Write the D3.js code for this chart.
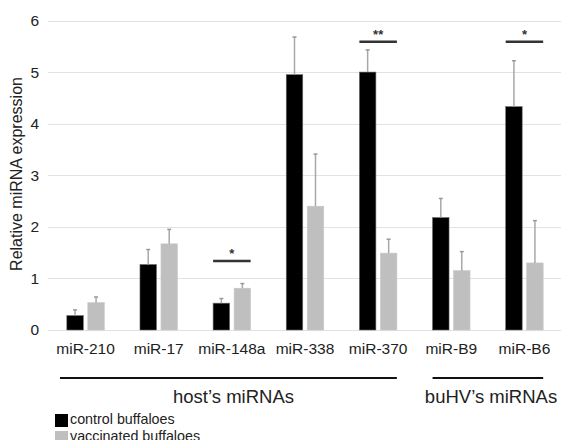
<!DOCTYPE html>
<html>
<head>
<meta charset="utf-8">
<script src="https://cdn.jsdelivr.net/npm/d3@7"></script>
<style>
  body { margin: 0; background: #fff; }
  svg { display: block; font-family: "Liberation Sans", Arial, sans-serif; }
</style>
</head>
<body>
<svg id="chart" width="561" height="440"></svg>
<script>
// --- Data ---
const categories = ["miR-210", "miR-17", "miR-148a", "miR-338", "miR-370", "miR-B9", "miR-B6"];
const controlValues = [0.28, 1.27, 0.52, 4.95, 5.00, 2.18, 4.33];
const controlErrors = [0.11, 0.29, 0.09, 0.73, 0.43, 0.37, 0.89];
const vaccinatedValues = [0.53, 1.67, 0.81, 2.40, 1.49, 1.15, 1.30];
const vaccinatedErrors = [0.11, 0.28, 0.09, 1.01, 0.27, 0.37, 0.82];
const yTicks = [0, 1, 2, 3, 4, 5, 6];
const seriesNames = ["control buffaloes", "vaccinated buffaloes"];
const sigCategories = ["miR-148a", "miR-370", "miR-B6"];
const sigLabels = ["*", "**", "*"];
const sigLevels = [1.34, 5.59, 5.59];
const groupNames = ["host\u2019s miRNAs", "buHV\u2019s miRNAs"];
const groupFirst = ["miR-210", "miR-B9"];
const groupLast = ["miR-370", "miR-B6"];

const colors = ["#000000", "#bfbfbf"];

const svg = d3.select("#chart");
const width = 561, height = 440;

// --- Scales ---
const x = d3.scaleBand()
    .domain(categories)
    .range([49, 561])
    .padding(0);

const x1 = d3.scaleBand()
    .domain([0, 1])
    .range([-18.75, 18.75])
    .paddingInner(0.214)
    .paddingOuter(0);

const y = d3.scaleLinear()
    .domain([0, 6])
    .range([330, 20.5]);

const cx = c => x(c) + x.bandwidth() / 2;

// --- Gridlines ---
svg.append("g")
    .selectAll("line")
    .data(yTicks)
    .join("line")
    .attr("x1", 48)
    .attr("x2", width)
    .attr("y1", d => Math.round(y(d)) + 0.5)
    .attr("y2", d => Math.round(y(d)) + 0.5)
    .attr("stroke", "#e2e2e2")
    .attr("stroke-width", 1);

// --- Y axis labels ---
const yAxis = svg.append("g")
    .attr("transform", "translate(39,0)")
    .call(d3.axisLeft(y).tickValues(yTicks).tickSize(0).tickPadding(0).tickFormat(d3.format("d")));
yAxis.select(".domain").remove();
yAxis.selectAll("text")
    .style("font-size", "15.5px")
    .style("font-family", "Liberation Sans, Arial, sans-serif")
    .attr("fill", "#222");

// Y-axis title
svg.append("text")
    .attr("transform", "translate(22,174) rotate(-90)")
    .attr("text-anchor", "middle")
    .style("font-size", "16px")
    .attr("fill", "#222")
    .text("Relative miRNA expression");

// --- Bars ---
const rows = categories.map((c, i) => ({
    cat: c,
    vals: [
        { s: 0, v: controlValues[i], e: controlErrors[i] },
        { s: 1, v: vaccinatedValues[i], e: vaccinatedErrors[i] }
    ]
}));

const groups = svg.append("g")
    .selectAll("g")
    .data(rows)
    .join("g")
    .attr("transform", d => `translate(${cx(d.cat)},0)`);

groups.selectAll("rect")
    .data(d => d.vals)
    .join("rect")
    .attr("x", d => x1(d.s))
    .attr("y", d => y(d.v))
    .attr("width", x1.bandwidth())
    .attr("height", d => y(0) - y(d.v))
    .attr("fill", d => colors[d.s])
    .attr("stroke", d => d.s === 0 ? "#6a6a6a" : "#c8c8c8")
    .attr("stroke-width", 0.6);

// --- Error bars ---
const errs = groups.selectAll("g.err")
    .data(d => d.vals)
    .join("g")
    .attr("class", "err")
    .attr("transform", d => `translate(${x1(d.s) + x1.bandwidth() / 2},0)`);

errs.append("line")
    .attr("x1", 0).attr("x2", 0)
    .attr("y1", d => y(d.v))
    .attr("y2", d => y(d.v + d.e))
    .attr("stroke", "#a8a8a8")
    .attr("stroke-width", 1.5);

errs.append("line")
    .attr("x1", -2).attr("x2", 2)
    .attr("y1", d => y(d.v + d.e))
    .attr("y2", d => y(d.v + d.e))
    .attr("stroke", "#999")
    .attr("stroke-width", 1.5);

// --- Significance markers ---
const sig = svg.append("g")
    .selectAll("g")
    .data(sigCategories.map((c, i) => ({ cat: c, label: sigLabels[i], level: sigLevels[i] })))
    .join("g")
    .attr("transform", d => `translate(${cx(d.cat)},${y(d.level)})`);

sig.append("line")
    .attr("x1", x1(0))
    .attr("x2", x1(1) + x1.bandwidth())
    .attr("stroke", "#333")
    .attr("stroke-width", 2.5);

sig.append("text")
    .attr("y", -3)
    .attr("text-anchor", "middle")
    .style("font-size", "13px")
    .style("font-weight", "bold")
    .attr("fill", "#333")
    .text(d => d.label);

// --- Category labels ---
svg.append("g")
    .selectAll("text")
    .data(categories)
    .join("text")
    .attr("x", d => cx(d))
    .attr("y", 354)
    .attr("text-anchor", "middle")
    .style("font-size", "15.5px")
    .attr("fill", "#222")
    .text(d => d);

// --- Group brackets ---
const grp = svg.append("g")
    .selectAll("g")
    .data(groupNames.map((n, i) => ({ name: n, first: groupFirst[i], last: groupLast[i] })))
    .join("g");

grp.append("line")
    .attr("x1", (d, i) => i === 0 ? x(d.first) + 11 : cx(d.first) + x1(0))
    .attr("x2", d => cx(d.last) + x1(1) + x1.bandwidth())
    .attr("y1", 378)
    .attr("y2", 378)
    .attr("stroke", "#111")
    .attr("stroke-width", 2);

grp.append("text")
    .attr("x", (d, i) => i === 0 ? 233.5 : 491)
    .attr("y", 403)
    .attr("text-anchor", "middle")
    .style("font-size", "18.5px")
    .attr("fill", "#222")
    .text(d => d.name);

// --- Legend ---
const legend = svg.append("g")
    .selectAll("g")
    .data(seriesNames)
    .join("g")
    .attr("transform", (d, i) => `translate(55,${414 + i * 17})`);

legend.append("rect")
    .attr("width", 13)
    .attr("height", 13)
    .attr("fill", (d, i) => colors[i]);

legend.append("text")
    .attr("x", 15)
    .attr("y", 10)
    .style("font-size", "14.3px")
    .attr("fill", "#222")
    .text(d => d);
</script>
</body>
</html>
